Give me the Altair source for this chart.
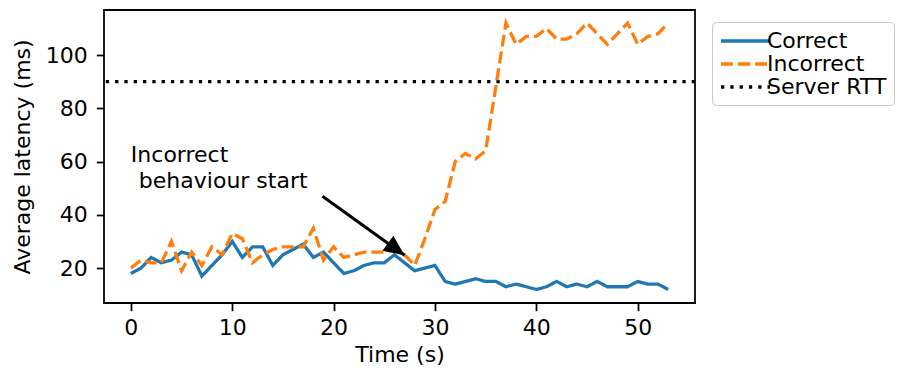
import altair as alt
import pandas as pd

# ---- data ----
time_s = list(range(54))
correct = [18, 20, 24, 22, 23, 26, 25, 17, 21, 25,
           30, 24, 28, 28, 21, 25, 27, 29, 24, 26,
           22, 18, 19, 21, 22, 22, 25, 22, 19, 20,
           21, 15, 14, 15, 16, 15, 15, 13, 14, 13,
           12, 13, 15, 13, 14, 13, 15, 13, 13, 13,
           15, 14, 14, 12]
incorrect = [20, 23, 22, 22, 30, 19, 26, 21, 28, 25,
             33, 31, 22, 25, 27, 28, 28, 28, 35, 23,
             28, 24, 25, 26, 26, 26, 27, 25, 21, 31,
             42, 45, 60, 63, 61, 64, 88, 112, 104, 107,
             107, 110, 106, 106, 108, 112, 108, 104, 108, 112,
             104, 107, 108, 112]
server_rtt = [90]
series_names = ["Correct", "Incorrect", "Server RTT"]
series_colors = ["#1f77b4", "#ff7f0e", "#000000"]
series_dashes = [[1, 0], [12, 5], [3.3, 6]]
x_ticks = [0, 10, 20, 30, 40, 50]
y_ticks = [20, 40, 60, 80, 100]
x_domain = [-2.65, 55.65]
y_domain = [6.9, 116.9]

annot_line1 = "Incorrect"
annot_line2 = "behaviour start"
annot_x = [0]
annot_y = [60]
arrow_x = [18.9]
arrow_y = [47.0]
arrow_tip_x = [27.0]
arrow_tip_y = [24.8]

FONT = "DejaVu Sans"

lines_df = pd.DataFrame({
    "t": time_s + time_s,
    "v": correct + incorrect,
    "series": ["Correct"] * len(correct) + ["Incorrect"] * len(incorrect),
})
rtt_df = pd.DataFrame({"series": ["Server RTT"], "v": server_rtt})
annot_df = pd.DataFrame({"x": annot_x, "y": annot_y})
arrow_df = pd.DataFrame({"x": arrow_x, "y": arrow_y, "x2": arrow_tip_x, "y2": arrow_tip_y})

x_scale = alt.Scale(domain=x_domain, nice=False, zero=False)
y_scale = alt.Scale(domain=y_domain, nice=False, zero=False)
color_scale = alt.Scale(domain=series_names, range=series_colors)
dash_scale = alt.Scale(domain=series_names, range=series_dashes)

x_axis = alt.Axis(values=x_ticks, title="Time (s)", titlePadding=6)
y_axis = alt.Axis(values=y_ticks, title="Average latency (ms)", titlePadding=11)

lines = alt.Chart(lines_df).mark_line(strokeWidth=3.3, clip=True).encode(
    x=alt.X("t:Q", scale=x_scale, axis=x_axis),
    y=alt.Y("v:Q", scale=y_scale, axis=y_axis),
    color=alt.Color("series:N", scale=color_scale, title=None),
    strokeDash=alt.StrokeDash("series:N", scale=dash_scale, title=None),
)

rtt = alt.Chart(rtt_df).mark_rule(strokeWidth=3.3).encode(
    y=alt.Y("v:Q", scale=y_scale),
    color=alt.Color("series:N", scale=color_scale, title=None),
    strokeDash=alt.StrokeDash("series:N", scale=dash_scale, title=None),
)

text1 = alt.Chart(annot_df).mark_text(
    text=annot_line1, align="left", baseline="alphabetic",
    font=FONT, fontSize=22, color="black",
).encode(
    x=alt.X("x:Q", scale=x_scale),
    y=alt.Y("y:Q", scale=y_scale),
)

text2 = alt.Chart(annot_df).mark_text(
    text=annot_line2, align="left", baseline="alphabetic",
    font=FONT, fontSize=22, color="black", dx=8, dy=26.7,
).encode(
    x=alt.X("x:Q", scale=x_scale),
    y=alt.Y("y:Q", scale=y_scale),
)

arrow_line = alt.Chart(arrow_df).mark_rule(strokeWidth=3, color="black").encode(
    x=alt.X("x:Q", scale=x_scale),
    y=alt.Y("y:Q", scale=y_scale),
    x2="x2:Q",
    y2="y2:Q",
)

arrow_head = alt.Chart(arrow_df).mark_point(
    shape="M0,0L-0.45,1L0.45,1Z", size=1700, angle=126,
    filled=True, color="black", opacity=1, strokeWidth=0,
).encode(
    x=alt.X("x2:Q", scale=x_scale),
    y=alt.Y("y2:Q", scale=y_scale),
)

chart = alt.layer(rtt, lines, arrow_line, arrow_head, text1, text2).properties(
    width=591,
    height=293,
    padding={"left": 96, "top": 2, "right": 204, "bottom": 65},
    autosize=alt.AutoSizeParams(type="none"),
).configure(
    font=FONT,
).configure_view(
    stroke="black", strokeWidth=1.76,
).configure_axis(
    labelFont=FONT, labelFontSize=22, labelColor="black",
    titleFont=FONT, titleFontSize=22, titleColor="black", titleFontWeight="normal",
    tickColor="black", tickWidth=1.76, tickSize=7.7, labelPadding=9,
    domain=False, grid=False,
).configure_axisX(
    labelPadding=7,
).configure_legend(
    orient="none", legendX=608, legendY=12,
    symbolType="M-1,0H3.9", symbolSize=400, symbolStrokeWidth=3.3,
    symbolFillColor="transparent",
    labelFont=FONT, labelFontSize=22, labelColor="black", labelOffset=24,
    rowPadding=0, padding=7, strokeColor="#cccccc", fillColor="white",
    cornerRadius=4, labelLimit=300,
)

chart.save("out.html", embed_options={"renderer": "svg", "actions": False})
